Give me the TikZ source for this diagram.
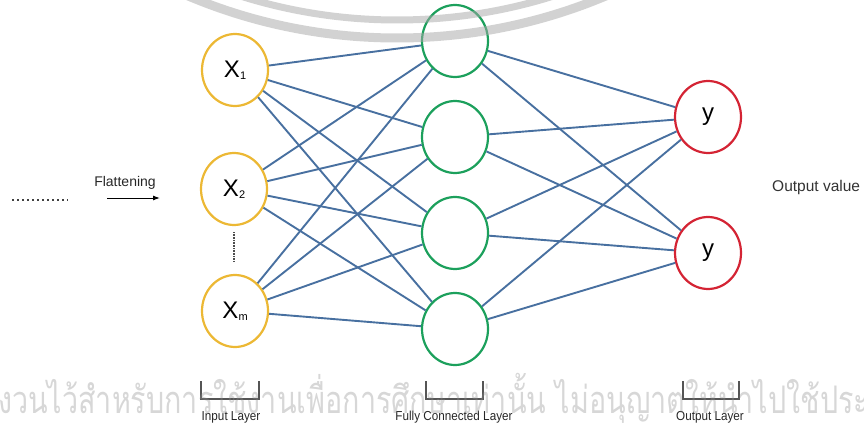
\documentclass[tikz,border=0pt]{standalone}
\usepackage{fontspec}
\setmainfont{Liberation Sans}
\newfontfamily\thaifont[Script=Thai]{Loma}
\usetikzlibrary{arrows.meta,shapes.geometric}
\definecolor{inyel}{RGB}{236,184,52}
\definecolor{hidgreen}{RGB}{28,160,92}
\definecolor{outred}{RGB}{212,36,52}
\definecolor{connblue}{RGB}{72,112,160}
\definecolor{brk}{RGB}{85,85,85}
\newcommand\xsub[1]{{\fontsize{24}{24}\selectfont X}\kern0.3pt\raisebox{-1.5pt}{\fontsize{11}{11}\selectfont #1}}
\tikzset{
  neuron/.style={ellipse, minimum width=66pt, minimum height=72pt, inner sep=0pt, line width=2.2pt, fill=white},
  innode/.style={neuron, draw=inyel},
  hidnode/.style={neuron, draw=hidgreen},
  outnode/.style={neuron, draw=outred},
  conn/.style={draw=connblue, line width=1.9pt},
  bracketline/.style={draw=brk, line width=2.3pt},
  layerlabel/.style={font=\fontsize{13}{13}\selectfont, text=black!85, inner sep=0pt},
  wmring/.style={opacity=0.5, draw=black!35},
}
\begin{document}
\begin{tikzpicture}[x=1pt,y=-1pt]
\useasboundingbox (0,0) rectangle (864,425);
% nodes
\node[innode] (x1) at (235,70) {\xsub{1}};
\node[innode] (x2) at (234,189) {\xsub{2}};
\node[innode] (xm) at (235,311) {\xsub{m}};
\node[hidnode] (h1) at (455,41) {};
\node[hidnode] (h2) at (455,137) {};
\node[hidnode] (h3) at (455,233) {};
\node[hidnode] (h4) at (455,329) {};
\node[outnode] (y1) at (708,117) {\fontsize{24}{24}\selectfont y};
\node[outnode] (y2) at (708,253) {\fontsize{24}{24}\selectfont y};
% connections
\foreach \i in {x1,x2,xm}{
  \foreach \j in {h1,h2,h3,h4}{
    \draw[conn] (\i) -- (\j);
  }
}
\foreach \j in {h1,h2,h3,h4}{
  \foreach \k in {y1,y2}{
    \draw[conn] (\j) -- (\k);
  }
}
% left side
\coordinate (dotsA) at (12,200);
\coordinate (dotsB) at (68,200);
\draw[draw=black!75, line width=2.2pt, dash pattern=on 2.4pt off 2.6pt] (dotsA) -- (dotsB);
\node[font=\fontsize{14}{14}\selectfont, text=black!85, inner sep=0pt] (flat) at (125,183) {Flattening};
\coordinate (arrA) at (107,198);
\coordinate (arrB) at (160,198);
\draw[black, line width=1pt, -{Latex[length=7pt,width=5pt]}] (arrA) -- (arrB);
\coordinate (vdA) at (234,232);
\coordinate (vdB) at (234,262);
\draw[draw=black!70, line width=1.3pt, dash pattern=on 0.8pt off 0.8pt] (vdA) -- (vdB);
\node[font=\fontsize{15.5}{16}\selectfont, text=black!80, anchor=west, inner sep=0pt] (outval) at (772,187) {Output value};
% brackets
\draw[bracketline] (201,381) -- (201,399) -- (259,399) -- (259,381);
\draw[bracketline] (426,381) -- (426,399) -- (483,399) -- (483,381);
\draw[bracketline] (683,381) -- (683,399) -- (739,399) -- (739,381);
\node[layerlabel] (inl) at (231,417) {\scalebox{0.9}[1]{Input Layer}};
\node[layerlabel] (fcl) at (454,417) {\scalebox{0.9}[1]{Fully Connected Layer}};
\node[layerlabel] (outl) at (710,417) {\scalebox{0.9}[1]{Output Layer}};
% watermark
\begin{scope}
\clip (0,0) rectangle (864,425);
\draw[wmring, line width=9pt] (397,-500) circle (538);
\draw[wmring, line width=7pt] (397,-500) circle (520);
\node[opacity=0.35, text=black!45, font=\thaifont\fontsize{38}{38}\selectfont, anchor=west, inner sep=0pt, xscale=0.755] (wm) at (-2,398) {งวนไว้สำหรับการใช้งานเพื่อการศึกษาเท่านั้น ไม่อนุญาตให้นำไปใช้ประ};
\end{scope}
\end{tikzpicture}
\end{document}
